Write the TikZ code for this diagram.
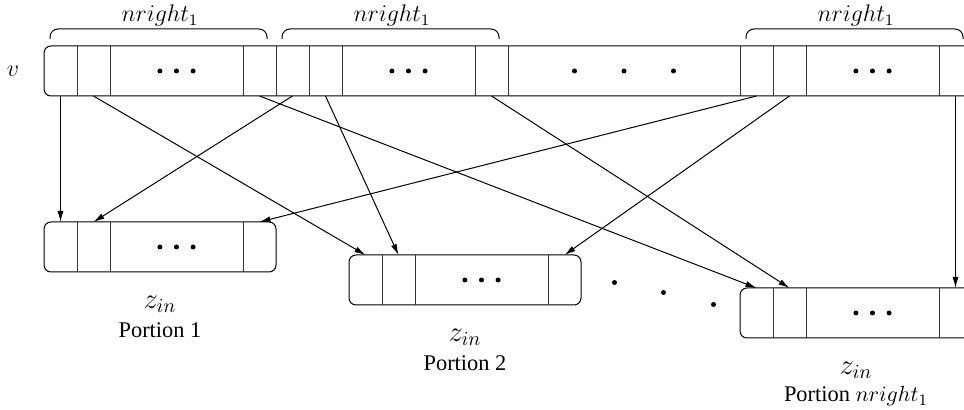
\documentclass[tikz,border=0pt]{standalone}
\usepackage{fontspec}
\setmainfont{Liberation Serif}
\usetikzlibrary{positioning, arrows.meta, fit, calc}

\begin{document}
\begin{tikzpicture}[
		x=0.5pt, y=-0.5pt,
		line width=0.5pt,
		font=\fontsize{11.2}{13}\selectfont,
		cell/.style={rectangle, inner sep=0pt, outer sep=0pt,
			minimum width=16.5pt, minimum height=25pt},
		wide/.style={cell, minimum width=66.5pt},
		frame/.style={draw, rounded corners=3.5pt, inner sep=0pt},
		sep/.style={draw=black!80},
		arr/.style={-{Latex[length=5.5pt, width=3pt]}},
		brace/.style={rounded corners=4pt},
		lbl/.style={inner sep=0pt, font=\fontsize{12}{14}\selectfont},
		zlbl/.style={inner sep=0pt, font=\fontsize{14.4}{16}\selectfont}
		]
		\useasboundingbox (0,0) rectangle (964,410);
		\clip (0,0) rectangle (964,410);

		% vector v, three blocks and the gap between them
		\foreach \b/\x in {1/44, 2/276, 3/740} {
			\node[cell, anchor=north west] (v\b-1) at (\x,46) {};
			\node[cell, right=0pt of v\b-1] (v\b-2) {};
			\node[wide, right=0pt of v\b-2] (v\b-d) {};
			\node[cell, right=0pt of v\b-d] (v\b-n) {};
		}
		\node[cell, minimum width=116pt, right=0pt of v2-n] (vmid) {};
		\node[frame, fit=(v1-1)(v3-n)] (v) {};
		\foreach \c in {1-1,1-2,1-d,1-n,2-1,2-2,2-d,2-n,mid,3-1,3-2,3-d}
			\draw[sep] (v\c.north east) -- (v\c.south east);
		\node[lbl, left=12pt of v] (vlab) {$v$};

		% braces over the blocks
		\foreach \b in {1,2,3}
			\draw[brace] ([xshift=3pt, yshift=3.5pt]v\b-1.north west)
				|- ($(v\b-1.north west)!0.5!(v\b-n.north east) + (0,-17)$)
				node[lbl, above=1pt] {$nright_1$}
				-| ([xshift=-4.5pt, yshift=3.5pt]v\b-n.north east);

		% portions of z_in
		\foreach \p/\x/\y in {1/44/222, 2/349/255, 3/740/288} {
			\node[cell, anchor=north west] (z\p-1) at (\x,\y) {};
			\node[cell, right=0pt of z\p-1] (z\p-2) {};
			\node[wide, right=0pt of z\p-2] (z\p-d) {};
			\node[cell, right=0pt of z\p-d] (z\p-n) {};
			\node[frame, fit=(z\p-1)(z\p-n)] (z\p) {};
			\foreach \c in {1,2,d}
				\draw[sep] (z\p-\c.north east) -- (z\p-\c.south east);
			\node[zlbl, below=16pt of z\p.south, anchor=center] (zin\p) {$z_{in}$};
		}
		\node[below=13pt of zin1.center, anchor=center] (por1) {Portion 1};
		\node[below=13pt of zin2.center, anchor=center] (por2) {Portion 2};
		\node[below=13pt of zin3.center, anchor=center] (por3) {Portion $nright_1$};

		% dots
		\foreach \c in {v1-d, v2-d, v3-d, z1-d, z2-d, z3-d}
			\foreach \dx in {-8.3pt, 0pt, 8.3pt}
				\fill ([xshift=\dx]\c.center) circle (1.25pt);
		\foreach \dx in {-24.75pt, 0pt, 24.75pt}
			\fill ([xshift=\dx]vmid.center) circle (1.25pt);
		\foreach \dx/\dy in {16.5pt/-1.25pt, 41pt/-6.25pt, 66pt/-12.25pt}
			\fill ([shift={(\dx,\dy)}]z2.east) circle (1.25pt);

		% element i of block b goes to element b of portion i
		\foreach \b/\c in {1/1, 2/2, 3/n}
			\foreach \i/\p in {1/1, 2/2, n/3}
				\draw[arr] (v\b-\i.south) -- (z\p-\c.north);
	\end{tikzpicture}
\end{document}
